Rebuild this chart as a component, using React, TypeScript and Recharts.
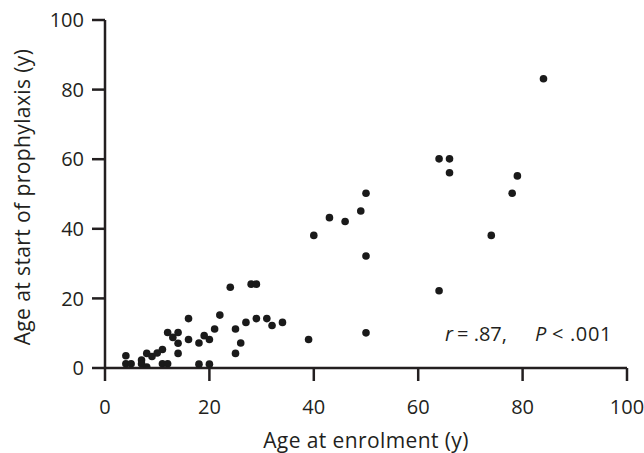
import React from 'react';
import { ScatterChart, Scatter, XAxis, YAxis, Label } from 'recharts';

const ageAtEnrolment = [4, 4, 5, 7, 7, 8, 8, 9, 10, 11, 11, 12, 12, 14, 13, 14, 14, 16, 16, 18, 18, 19, 20, 20, 21, 22, 24, 25, 25, 26, 27, 28, 29, 29, 31, 32, 34, 39, 40, 43, 46, 49, 50, 50, 50, 64, 66, 66, 64, 74, 78, 79, 84];
const ageAtProphylaxis = [3.5, 1.2, 1.2, 2.3, 1.2, 0.3, 4.2, 3.3, 4.3, 5.3, 1.2, 1.2, 10.2, 10.2, 8.8, 7.1, 4.2, 14.2, 8.2, 7.2, 1.1, 9.3, 8.2, 1.1, 11.2, 15.2, 23.2, 11.2, 4.2, 7.2, 13.1, 24.1, 24.1, 14.2, 14.2, 12.2, 13.1, 8.2, 38.1, 43.2, 42.1, 45.1, 50.2, 32.2, 10.1, 60.1, 60.1, 56.1, 22.2, 38.1, 50.2, 55.2, 83.1];
const axisTicks = [0, 20, 40, 60, 80, 100];
const xTitle = 'Age at enrolment (y)';
const yTitle = 'Age at start of prophylaxis (y)';

const data = ageAtEnrolment.map((x, i) => ({ x, y: ageAtProphylaxis[i] }));

const INK = '#231f20';
const FONT = '"Open Sans", sans-serif';

const Dot = (props: any) => <circle cx={props.cx} cy={props.cy} r={3.8} fill="#1a1a1a" />;

export default function App() {
  return (
    <div style={{ position: 'absolute', left: 0, top: 0, width: 644, height: 453, background: '#fff' }}>
      <ScatterChart width={644} height={453} margin={{ top: 20, right: 17, bottom: 0, left: 0 }}>
        <XAxis
          type="number"
          dataKey="x"
          domain={[0, 100]}
          ticks={axisTicks}
          allowDataOverflow
          height={85}
          tickSize={13}
          tickMargin={19}
          axisLine={{ stroke: INK, strokeWidth: 2.5 }}
          tickLine={{ stroke: INK, strokeWidth: 2.5 }}
          tick={{ fill: INK, fontSize: 20, fontFamily: FONT }}
        >
          <Label
            content={(p: any) => {
              const vb = p.viewBox;
              return (
                <text x={vb.x + vb.width / 2} y={448} textAnchor="middle" fill={INK} fontSize={21} letterSpacing={0.4} fontFamily={FONT}>
                  {xTitle}
                </text>
              );
            }}
          />
        </XAxis>
        <YAxis
          type="number"
          dataKey="y"
          domain={[0, 100]}
          ticks={axisTicks}
          allowDataOverflow
          width={105}
          tickSize={13}
          tickMargin={8}
          axisLine={{ stroke: INK, strokeWidth: 2.5 }}
          tickLine={{ stroke: INK, strokeWidth: 2.5 }}
          tick={{ fill: INK, fontSize: 20, fontFamily: FONT }}
        >
          <Label
            content={(p: any) => {
              const vb = p.viewBox;
              const cy = vb.y + vb.height / 2 + 3;
              return (
                <text
                  x={22}
                  y={cy}
                  transform={`rotate(-90, 22, ${cy})`}
                  textAnchor="middle"
                  dominantBaseline="central"
                  fill={INK}
                  fontSize={21}
                  letterSpacing={0.4}
                  fontFamily={FONT}
                >
                  {yTitle}
                </text>
              );
            }}
          />
        </YAxis>
        <Scatter data={data} shape={Dot} isAnimationActive={false} />
        <text fill={INK} fontSize={20} fontFamily={FONT} y={341}>
          <tspan x={445} fontStyle="italic">r</tspan>
          <tspan x={457}>= .87,</tspan>
          <tspan x={535} fontStyle="italic">P</tspan>
          <tspan x={552}>&lt;</tspan>
          <tspan x={570} letterSpacing={0.6}>.001</tspan>
        </text>
      </ScatterChart>
    </div>
  );
}
